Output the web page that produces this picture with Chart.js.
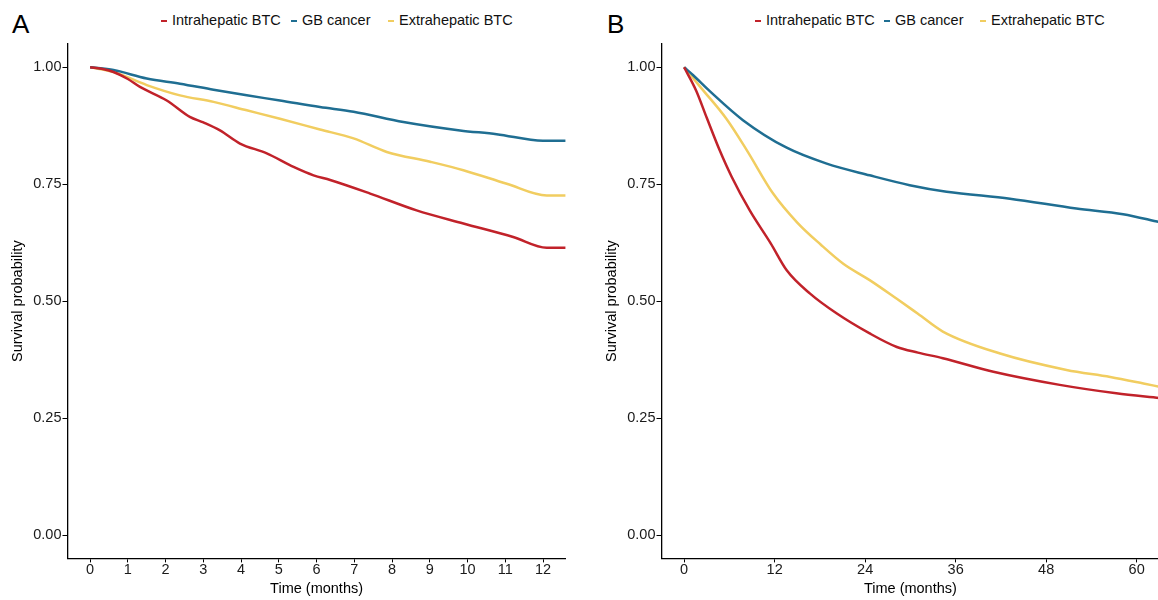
<!DOCTYPE html>
<html>
<head>
<meta charset="utf-8">
<script src="https://cdn.jsdelivr.net/npm/chart.js@4.4.1/dist/chart.umd.min.js"></script>
<style>
  html, body { margin:0; padding:0; background:#fff; }
  body { width:1158px; height:600px; overflow:hidden; position:relative;
         font-family:"Liberation Sans", Arial, Helvetica, sans-serif; }
  .letter { position:absolute; font-size:26px; line-height:26px; color:#000; }
  .leg-text { position:absolute; font-size:14.5px; line-height:14.5px; color:#111; white-space:nowrap; }
  .leg-dash { position:absolute; width:6px; height:2.5px; }
  .wrap { position:absolute; top:0; height:600px; }
</style>
</head>
<body>
<div class="letter" style="left:12px;top:11px">A</div>
<div class="letter" style="left:607px;top:11px">B</div>
<div id="legA"></div>
<div id="legB"></div>
<div class="wrap" style="left:0;width:580px"><canvas id="cA" width="580" height="600"></canvas></div>
<div class="wrap" style="left:594px;width:580px"><canvas id="cB" width="580" height="600"></canvas></div>
<script>
// ---------- data ----------
const seriesNames = ['Intrahepatic BTC', 'GB cancer', 'Extrahepatic BTC'];

// Panel A: 12-month survival
const timeA_intra = [0, 0.3, 0.62, 1.0, 1.32, 2.03, 2.64, 3.0, 3.44, 3.97, 4.68, 5.39, 5.92, 6.36, 7.42, 8.65, 9.89, 11.21, 12.1, 12.6];
const survA_intra = [1.0, 0.997, 0.990, 0.975, 0.958, 0.929, 0.894, 0.882, 0.865, 0.837, 0.816, 0.787, 0.769, 0.759, 0.730, 0.694, 0.666, 0.637, 0.614, 0.614];
const timeA_gb = [0, 0.62, 1.5, 2.38, 3.27, 4.15, 5.03, 6.09, 6.98, 8.30, 9.80, 10.77, 12.0, 12.6];
const survA_gb = [1.0, 0.994, 0.976, 0.965, 0.952, 0.940, 0.929, 0.915, 0.905, 0.883, 0.865, 0.857, 0.843, 0.843];
const timeA_extra = [0, 0.62, 1.5, 2.38, 3.27, 4.15, 5.03, 6.09, 6.98, 7.86, 9.01, 9.89, 11.04, 12.1, 12.6];
const survA_extra = [1.0, 0.990, 0.962, 0.940, 0.926, 0.908, 0.890, 0.867, 0.848, 0.819, 0.798, 0.780, 0.751, 0.726, 0.726];

// Panel B: 60-month survival
const timeB_intra = [0, 1.6, 3.0, 4.7, 6.3, 8.7, 11.5, 13.6, 16.7, 20.2, 24.6, 28.2, 31.0, 34.3, 41.0, 49.8, 57.3, 63];
const survB_intra = [1.0, 0.950, 0.892, 0.823, 0.766, 0.694, 0.623, 0.566, 0.516, 0.474, 0.431, 0.402, 0.390, 0.378, 0.349, 0.321, 0.303, 0.293];
const timeB_gb = [0, 1.2, 3.4, 7.8, 13.6, 18.9, 24.6, 29.9, 34.8, 43.2, 52.0, 58.2, 63];
const survB_gb = [1.0, 0.983, 0.949, 0.887, 0.828, 0.794, 0.769, 0.748, 0.734, 0.719, 0.698, 0.686, 0.669];
const timeB_extra = [0, 2.3, 5.6, 8.3, 11.8, 15.0, 18.1, 21.1, 24.6, 28.2, 31.0, 34.3, 41.9, 50.7, 56.5, 60.9, 63];
const survB_extra = [1.0, 0.955, 0.890, 0.823, 0.730, 0.668, 0.621, 0.580, 0.545, 0.505, 0.473, 0.435, 0.388, 0.353, 0.338, 0.324, 0.317];

// ticks
const xTicksA = [0, 1, 2, 3, 4, 5, 6, 7, 8, 9, 10, 11, 12];
const xTicksB = [0, 12, 24, 36, 48, 60];
const yTicks = [0, 0.25, 0.5, 0.75, 1.0];

// ---------- styling ----------
const colors = ['#C1222A', '#1F6E92', '#F1CD60'];
const FONT = '"Liberation Sans", Arial, Helvetica, sans-serif';

function buildLegend(id, textLefts) {
  const el = document.getElementById(id);
  seriesNames.forEach((name, i) => {
    const d = document.createElement('div');
    d.className = 'leg-dash';
    d.style.left = (textLefts[i] - 11) + 'px';
    d.style.top = '19.5px';
    d.style.background = colors[i];
    el.appendChild(d);
    const t = document.createElement('div');
    t.className = 'leg-text';
    t.style.left = textLefts[i] + 'px';
    t.style.top = '13.4px';
    t.textContent = name;
    el.appendChild(t);
  });
}
buildLegend('legA', [172, 302, 399]);
buildLegend('legB', [172 + 594, 301 + 594, 397 + 594]);

function toPoints(t, v) { return t.map((x, i) => ({x: x, y: v[i]})); }

function makeChart(id, series, xMin, xMax, xTicks, padRight) {
  const datasets = series.map((s, i) => ({
    label: seriesNames[i],
    data: toPoints(s[0], s[1]),
    borderColor: colors[i],
    backgroundColor: colors[i],
    borderWidth: 2.5,
    pointRadius: 0,
    cubicInterpolationMode: 'monotone',
    fill: false
  }));
  return new Chart(document.getElementById(id), {
    type: 'line',
    data: { datasets },
    options: {
      responsive: false,
      animation: false,
      events: [],
      layout: { padding: { left: 0, right: padRight, top: 43.9, bottom: 0 } },
      plugins: { legend: { display: false }, tooltip: { enabled: false } },
      scales: {
        x: {
          type: 'linear', min: xMin, max: xMax,
          afterBuildTicks: s => { s.ticks = xTicks.map(v => ({ value: v })); },
          afterFit: s => { s.height = 41.6; },
          grid: { drawOnChartArea: false, drawTicks: true, tickLength: 4, color: '#000', lineWidth: 1 },
          border: { display: true, color: '#000', width: 1.3 },
          ticks: { color: '#1a1a1a', font: { family: FONT, size: 14.5 }, padding: -1, maxRotation: 0, autoSkip: false,
                   callback: v => String(v) },
          title: { display: true, text: 'Time (months)', color: '#000', font: { family: FONT, size: 14.5 },
                   padding: { top: 0, bottom: 2.3 } }
        },
        y: {
          type: 'linear', min: -0.05, max: 1.05,
          afterBuildTicks: s => { s.ticks = yTicks.map(v => ({ value: v })); },
          afterFit: s => { s.width = 67.5; },
          grid: { drawOnChartArea: false, drawTicks: true, tickLength: 5, color: '#000', lineWidth: 1 },
          border: { display: true, color: '#000', width: 1.3 },
          ticks: { color: '#1a1a1a', font: { family: FONT, size: 14.5 }, padding: 1,
                   callback: v => Number(v).toFixed(2) },
          title: { display: true, text: 'Survival probability', color: '#000', font: { family: FONT, size: 14.5 },
                   padding: { top: 9.3, bottom: 0 } }
        }
      }
    }
  });
}

makeChart('cA', [[timeA_intra, survA_intra], [timeA_gb, survA_gb], [timeA_extra, survA_extra]],
          -0.6, 12.6, xTicksA, 14.35);
makeChart('cB', [[timeB_intra, survB_intra], [timeB_gb, survB_gb], [timeB_extra, survB_extra]],
          -3, 63, xTicksB, 14.7);
</script>
</body>
</html>
